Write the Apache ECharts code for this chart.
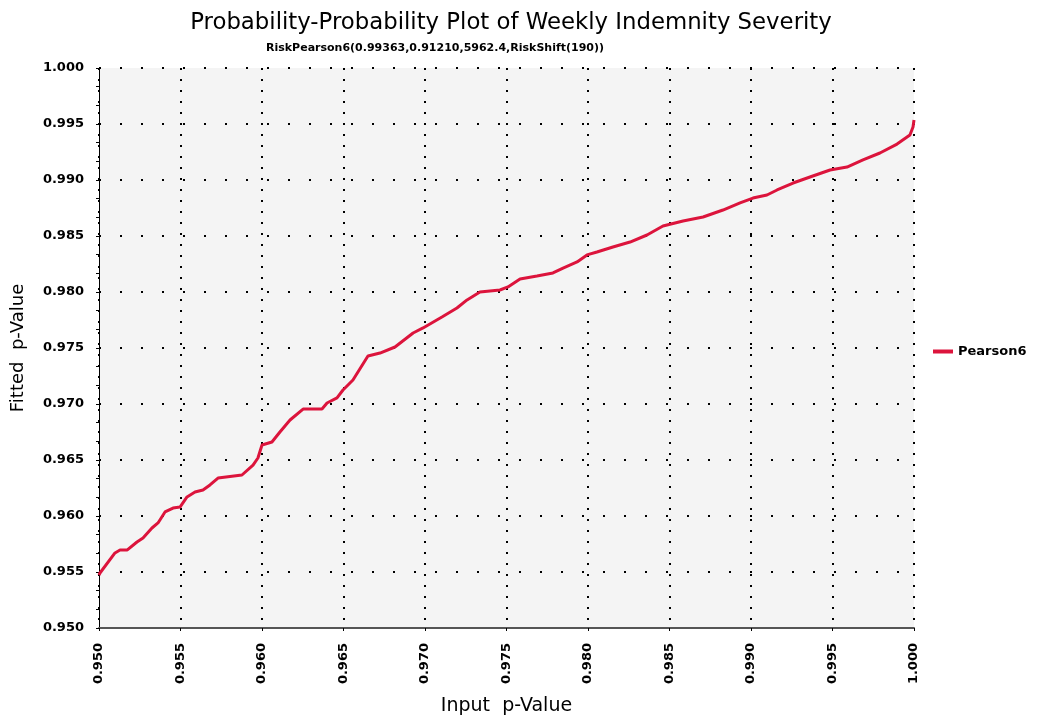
<!DOCTYPE html>
<html><head><meta charset="utf-8">
<script src="https://cdn.jsdelivr.net/npm/echarts@6/dist/echarts.min.js"></script>
<style>html,body{margin:0;padding:0;background:#fff}#c{width:1043px;height:719px}</style>
</head><body><div id="c"></div>
<script>
const titleText = "Probability-Probability Plot of Weekly Indemnity Severity";
const subtitleText = "RiskPearson6(0.99363,0.91210,5962.4,RiskShift(190))";
const xAxisName = "Input  p-Value";
const yAxisName = "Fitted  p-Value";
const seriesName = "Pearson6";
const inputP = [0.95000,0.95006,0.95098,0.95129,0.95172,0.95233,0.95270,0.95325,0.95362,0.95405,0.95454,0.95497,0.95540,0.95589,0.95638,0.95681,0.95730,0.95877,0.95945,0.95975,0.96000,0.96061,0.96110,0.96172,0.96252,0.96368,0.96399,0.96460,0.96497,0.96558,0.96650,0.96724,0.96816,0.96927,0.96988,0.97104,0.97196,0.97258,0.97337,0.97460,0.97509,0.97583,0.97687,0.97785,0.97847,0.97933,0.97994,0.98055,0.98153,0.98258,0.98362,0.98460,0.98583,0.98706,0.98828,0.98933,0.99012,0.99098,0.99160,0.99258,0.99362,0.99485,0.99589,0.99687,0.99791,0.99896,0.99975,0.99994,1.00000];
const fittedP = [0.95473,0.95491,0.95670,0.95696,0.95696,0.95768,0.95804,0.95893,0.95938,0.96036,0.96071,0.96080,0.96170,0.96214,0.96232,0.96277,0.96339,0.96366,0.96455,0.96518,0.96634,0.96661,0.96750,0.96857,0.96955,0.96955,0.97009,0.97054,0.97125,0.97214,0.97429,0.97455,0.97509,0.97634,0.97679,0.97777,0.97857,0.97929,0.98000,0.98018,0.98045,0.98116,0.98143,0.98170,0.98214,0.98268,0.98331,0.98357,0.98402,0.98446,0.98509,0.98589,0.98634,0.98670,0.98732,0.98795,0.98839,0.98866,0.98911,0.98973,0.99027,0.99089,0.99116,0.99179,0.99241,0.99321,0.99402,0.99473,0.99536];

const data = inputP.map((x, i) => [x, fittedP[i]]);
const chart = echarts.init(document.getElementById('c'), null, {renderer: 'canvas'});
const font = '"DejaVu Sans", sans-serif';
chart.setOption({
  animation: false,
  backgroundColor: '#ffffff',
  title: [
    {text: titleText, left: 506, top: 7, textAlign: 'center',
     textStyle: {fontFamily: font, fontSize: 22.8, fontWeight: 'normal', color: '#000'}},
    {text: subtitleText, left: 430, top: 38, textAlign: 'center',
     textStyle: {fontFamily: font, fontSize: 11, fontWeight: 'bold', color: '#000'}}
  ],
  legend: {
    orient: 'vertical', left: 928, top: 340,
    data: [{name: seriesName, icon: 'rect'}],
    itemWidth: 20, itemHeight: 4, itemGap: 6,
    textStyle: {fontFamily: font, fontSize: 13, fontWeight: 'bold', color: '#000'}
  },
  grid: {left: 99, right: 129, top: 68, bottom: 91, outerBoundsMode: 'none', containLabel: false,
    show: true, backgroundColor: '#f4f4f4', borderWidth: 0},
  xAxis: {
    type: 'value', min: 0.95, max: 1.0, interval: 0.005,
    name: xAxisName, nameLocation: 'middle', nameGap: 69,
    nameTextStyle: {fontFamily: font, fontSize: 19, color: '#000'},
    axisLine: {show: true, lineStyle: {color: '#555', width: 2}},
    axisTick: {show: true, length: 3, lineStyle: {color: '#000'}},
    axisLabel: {rotate: 90, fontFamily: font, fontSize: 13, fontWeight: 'bold', color: '#000', margin: 15,
      formatter: v => v.toFixed(3)},
    splitLine: {show: true, lineStyle: {color: '#000', width: 2, type: [2, 9]}}
  },
  yAxis: {
    type: 'value', min: 0.95, max: 1.0, interval: 0.005,
    name: yAxisName, nameLocation: 'middle', nameGap: 72,
    nameTextStyle: {fontFamily: font, fontSize: 18, color: '#000'},
    axisLine: {show: true, lineStyle: {color: '#000', width: 1}},
    axisTick: {show: true, length: 3, lineStyle: {color: '#000'}},
    minorTick: {show: true, splitNumber: 3, length: 3, lineStyle: {color: '#000'}},
    axisLabel: {fontFamily: font, fontSize: 13, fontWeight: 'bold', color: '#000', margin: 15,
      formatter: v => v.toFixed(3)},
    splitLine: {show: true, lineStyle: {color: '#000', width: 2, type: [2, 19]}}
  },
  series: [{
    name: seriesName, type: 'line', data: data, showSymbol: false, symbol: 'none',
    lineStyle: {color: '#dc143c', width: 3}, itemStyle: {color: '#dc143c'}
  }]
});
</script></body></html>
